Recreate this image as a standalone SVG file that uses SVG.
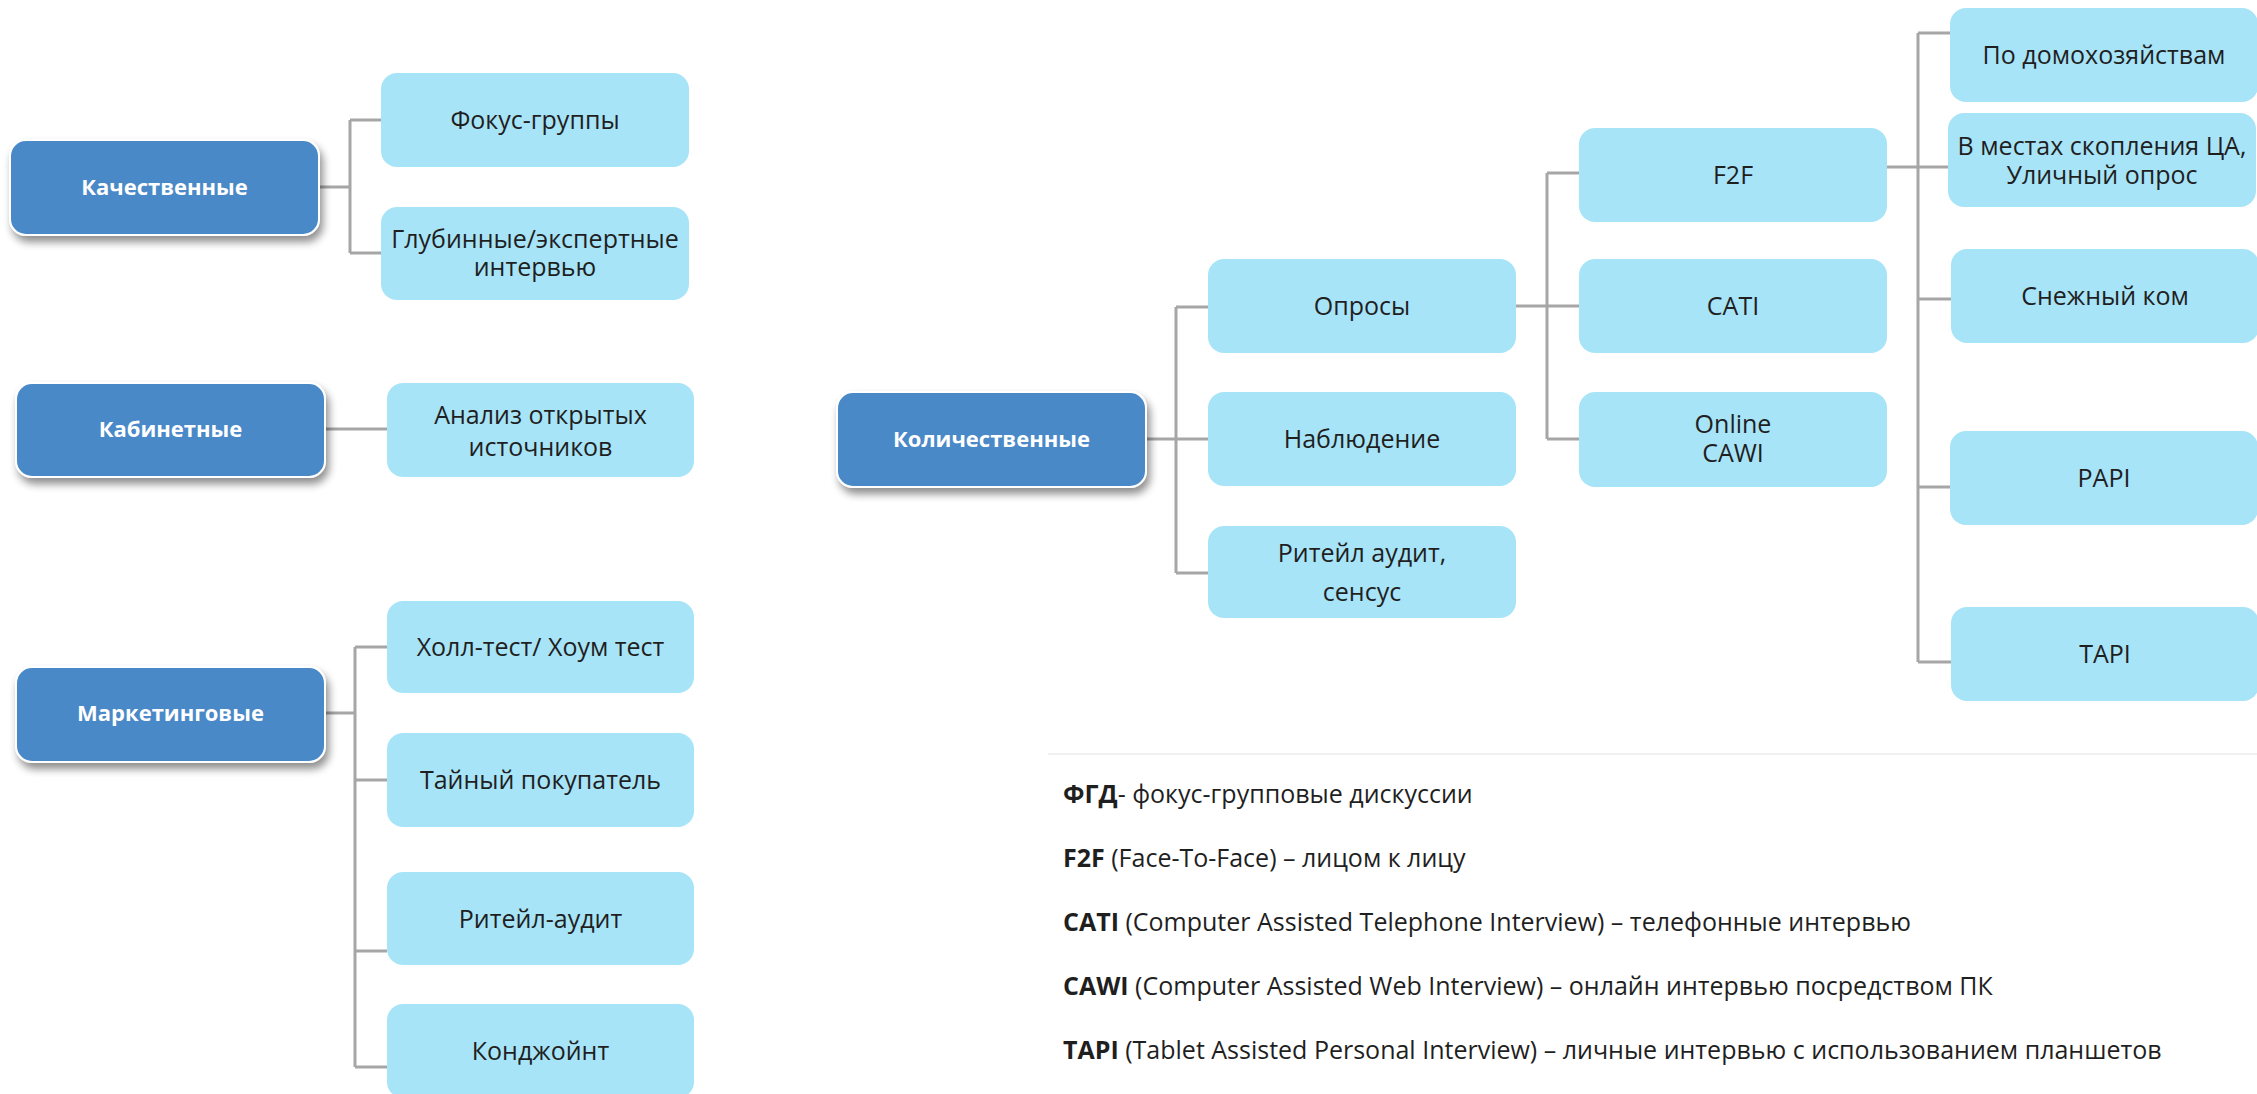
<svg xmlns="http://www.w3.org/2000/svg" width="2257" height="1094" viewBox="0 0 2257 1094">
<defs>
<filter id="sh" x="-10%" y="-10%" width="125%" height="140%">
<feGaussianBlur in="SourceAlpha" stdDeviation="4"/>
<feOffset dx="3" dy="6" result="b"/>
<feComponentTransfer><feFuncA type="linear" slope="0.45"/></feComponentTransfer>
<feMerge><feMergeNode/><feMergeNode in="SourceGraphic"/></feMerge>
</filter>
</defs>
<style>
.p{fill:#4a89c8;stroke:#ffffff;stroke-width:2;filter:url(#sh)}
.c{fill:#a8e4f8}
.pt{font-family:"Open Sans","Noto Sans",sans-serif;font-size:22px;font-weight:bold;fill:#ffffff;text-anchor:middle}
.ct{font-family:"Open Sans","Noto Sans",sans-serif;font-size:25px;fill:#1f1f1f;text-anchor:middle}
.lg{font-family:"Open Sans","Noto Sans",sans-serif;font-size:25px;fill:#1f1f1f}
.lg tspan.b{font-weight:bold}
.cn{fill:none;stroke:#a6a6a6;stroke-width:3}
</style>
<rect width="2257" height="1094" fill="#ffffff"/>
<g id="connectors" class="cn">
<path d="M319,187H350M350,120V253M350,120H381M350,253H381"/>
<path d="M325,429H387"/>
<path d="M325,713H355M355,647V1067M355,647H387M355,780H387M355,951H387M355,1067H387"/>
<path d="M1146,439H1176M1176,307V573M1176,307H1208M1176,439H1208M1176,573H1208"/>
<path d="M1516,306H1547M1547,173V439M1547,173H1579M1547,306H1579M1547,439H1579"/>
<path d="M1887,167H1918M1918,33V662M1918,33H1950M1918,167H1948M1918,299H1951M1918,487H1950M1918,662H1951"/>
</g>
<g id="n-kach"><rect class="p" x="10" y="140" width="309" height="95" rx="16"/><text class="pt" x="164.5" y="195">Качественные</text></g>
<g id="n-fokus"><rect class="c" x="381" y="73" width="308" height="94" rx="16"/><text class="ct" x="535" y="129">Фокус-группы</text></g>
<g id="n-glub"><rect class="c" x="381" y="207" width="308" height="93" rx="16"/><text class="ct" x="535" y="248">Глубинные/экспертные<tspan x="535" dy="28">интервью</tspan></text></g>
<g id="n-kab"><rect class="p" x="16" y="383" width="309" height="94" rx="16"/><text class="pt" x="170.5" y="437">Кабинетные</text></g>
<g id="n-analiz"><rect class="c" x="387" y="383" width="307" height="94" rx="16"/><text class="ct" x="540.5" y="424">Анализ открытых<tspan x="540.5" dy="32">источников</tspan></text></g>
<g id="n-mark"><rect class="p" x="16" y="667" width="309" height="95" rx="16"/><text class="pt" x="170.5" y="721">Маркетинговые</text></g>
<g id="n-holl"><rect class="c" x="387" y="601" width="307" height="92" rx="16"/><text class="ct" x="540.5" y="656">Холл-тест/ Хоум тест</text></g>
<g id="n-tain"><rect class="c" x="387" y="733" width="307" height="94" rx="16"/><text class="ct" x="540.5" y="789">Тайный покупатель</text></g>
<g id="n-riteil"><rect class="c" x="387" y="872" width="307" height="93" rx="16"/><text class="ct" x="540.5" y="928">Ритейл-аудит</text></g>
<g id="n-kondz"><rect class="c" x="387" y="1004" width="307" height="94" rx="16"/><text class="ct" x="540.5" y="1060">Конджойнт</text></g>
<g id="n-kol"><rect class="p" x="837" y="392" width="309" height="95" rx="16"/><text class="pt" x="991.5" y="447">Количественные</text></g>
<g id="n-opros"><rect class="c" x="1208" y="259" width="308" height="94" rx="16"/><text class="ct" x="1362" y="315">Опросы</text></g>
<g id="n-nabl"><rect class="c" x="1208" y="392" width="308" height="94" rx="16"/><text class="ct" x="1362" y="448">Наблюдение</text></g>
<g id="n-riteil2"><rect class="c" x="1208" y="526" width="308" height="92" rx="16"/><text class="ct" x="1362" y="562">Ритейл аудит,<tspan x="1362" dy="39">сенсус</tspan></text></g>
<g id="n-f2f"><rect class="c" x="1579" y="128" width="308" height="94" rx="16"/><text class="ct" x="1733" y="184">F2F</text></g>
<g id="n-cati"><rect class="c" x="1579" y="259" width="308" height="94" rx="16"/><text class="ct" x="1733" y="315">CATI</text></g>
<g id="n-cawi"><rect class="c" x="1579" y="392" width="308" height="95" rx="16"/><text class="ct" x="1733" y="433">Online<tspan x="1733" dy="29">CAWI</tspan></text></g>
<g id="n-dom"><rect class="c" x="1950" y="8" width="308" height="94" rx="16"/><text class="ct" x="2104" y="64">По домохозяйствам</text></g>
<g id="n-mest"><rect class="c" x="1948" y="113" width="308" height="94" rx="16"/><text class="ct" x="2102" y="155">В местах скопления ЦА,<tspan x="2102" dy="29">Уличный опрос</tspan></text></g>
<g id="n-sneg"><rect class="c" x="1951" y="249" width="308" height="94" rx="16"/><text class="ct" x="2105" y="305">Снежный ком</text></g>
<g id="n-papi"><rect class="c" x="1950" y="431" width="308" height="94" rx="16"/><text class="ct" x="2104" y="487">PAPI</text></g>
<g id="n-tapi"><rect class="c" x="1951" y="607" width="308" height="94" rx="16"/><text class="ct" x="2105" y="663">TAPI</text></g>
<line x1="1048" y1="754" x2="2257" y2="754" stroke="#f0f0f0" stroke-width="2"/>
<g id="legend">
<text class="lg" x="1063" y="803"><tspan class="b">ФГД</tspan>- фокус-групповые дискуссии</text>
<text class="lg" x="1063" y="867"><tspan class="b">F2F</tspan> (Face-To-Face) – лицом к лицу</text>
<text class="lg" x="1063" y="931"><tspan class="b">CATI</tspan> (Computer Assisted Telephone Interview) – телефонные интервью</text>
<text class="lg" x="1063" y="995"><tspan class="b">CAWI</tspan> (Computer Assisted Web Interview) – онлайн интервью посредством ПК</text>
<text class="lg" x="1063" y="1059"><tspan class="b">TAPI</tspan> (Tablet Assisted Personal Interview) – личные интервью с использованием планшетов</text>
</g>
</svg>
